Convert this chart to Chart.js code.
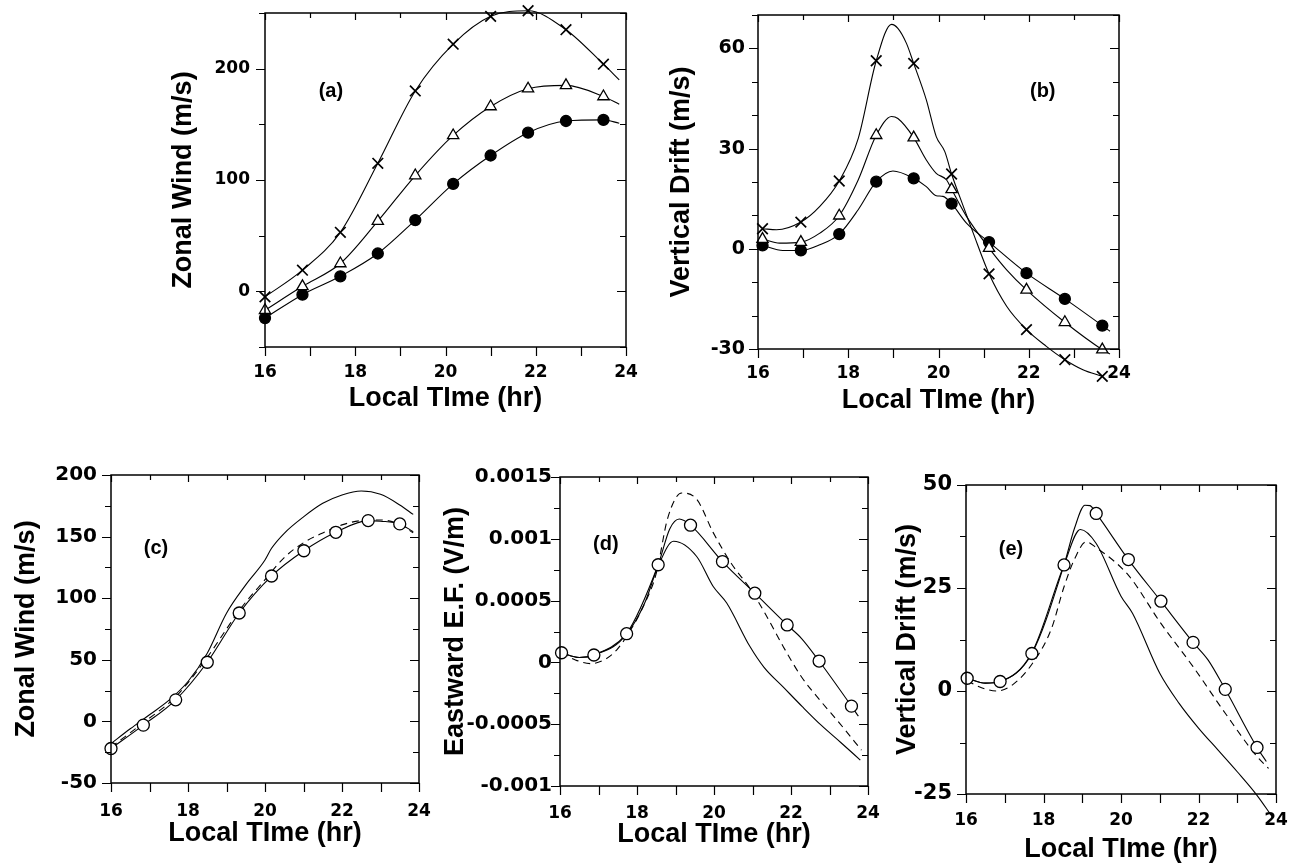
<!DOCTYPE html>
<html><head><meta charset="utf-8">
<script src="https://cdn.jsdelivr.net/npm/chart.js@4.4.1/dist/chart.umd.min.js"></script>
<style>
html,body{margin:0;padding:0;background:#fff;}
body{width:1296px;height:865px;overflow:hidden;position:relative;}
canvas{position:absolute;}
</style></head><body>
<canvas id="pa"></canvas><canvas id="pb"></canvas><canvas id="pc"></canvas><canvas id="pd"></canvas><canvas id="pe"></canvas>
<script>
const FONT = "'Liberation Sans', Arial, Helvetica, sans-serif";
const TICKFONT = "'DejaVu Sans', sans-serif";

// ---- shared x axis ----
const xTickLabels = ['16', '18', '20', '22', '24'];

// ---- panel (a): Zonal Wind ----
const aX = [16.0, 16.83, 17.67, 18.5, 19.33, 20.17, 21.0, 21.83, 22.67, 23.5];
const aCross = [-5, 19, 53, 115, 180, 222, 247, 252, 235, 204];
const aTriangle = [-17, 4.5, 25, 63, 104, 140, 166, 182, 185, 175];
const aDot = [-24, -3, 13.5, 34, 64, 96.5, 122, 142.5, 153, 154];
const aCurveX = [16.0, 16.83, 17.67, 18.5, 19.33, 20.17, 21.0, 21.83, 22.67, 23.5, 23.85];
const aCrossCurve = [-5, 19, 53, 115, 180, 222, 247, 252, 235, 204, 190];
const aTriangleCurve = [-17, 4.5, 25, 63, 104, 140, 166, 182, 185, 175, 168];
const aDotCurve = [-24, -3, 13.5, 34, 64, 96.5, 122, 142.5, 153, 154, 151];
const aYLabels = ['0', '100', '200'];

// ---- panel (b): Vertical Drift ----
const bX = [16.1, 16.95, 17.8, 18.62, 19.45, 20.29, 21.12, 21.95, 22.8, 23.63];
const bCross = [6, 8, 20.3, 56.3, 55.5, 22.4, -7.5, -24.2, -33.2, -38.2];
const bTriangle = [2.9, 2, 9.9, 34, 33.3, 17.8, 0.2, -12.3, -22, -30.2];
const bDot = [1, -0.5, 4.4, 20.1, 21.1, 13.5, 2, -7.3, -15, -23];
const bCrossCurveX = [16.11, 16.41, 16.95, 17.37, 17.8, 18.22, 18.62, 18.96, 19.1, 19.29, 19.45, 19.73, 19.95, 20.14, 20.29, 20.55, 20.77, 21.12, 21.51, 21.95, 22.39, 22.8, 23.2, 23.63];
const bCrossCurve = [6, 5.7, 8, 12.7, 20.3, 33, 56.3, 67.2, 66, 61.5, 55.5, 44.6, 33.6, 29.1, 22.4, 12.7, 4.7, -7.5, -17.2, -24.2, -29.2, -33.2, -36.2, -38.2];
const bTriangleCurveX = [16.11, 16.48, 16.95, 17.37, 17.8, 18.22, 18.62, 18.96, 19.1, 19.45, 19.73, 19.95, 20.18, 20.29, 20.62, 21.12, 21.51, 21.95, 22.8, 23.63, 23.8];
const bTriangleCurve = [2.9, 1.7, 2, 4.7, 9.9, 20.6, 34, 39.6, 39, 33.3, 26.6, 22.6, 20.6, 17.8, 9.7, 0.2, -6.3, -12.3, -22, -30.2, -31.5];
const bDotCurveX = [16.11, 16.55, 16.95, 17.37, 17.8, 18.22, 18.62, 18.99, 19.45, 19.73, 19.95, 20.1, 20.29, 20.62, 21.12, 21.95, 22.8, 23.63, 23.8];
const bDotCurve = [1, -0.5, -0.5, 1.2, 4.4, 11.7, 20.1, 23.3, 21.1, 18.6, 15.9, 15.7, 13.5, 7.7, 2, -7.3, -15, -23, -24.7];
const bYLabels = ['-30', '0', '30', '60'];

// ---- panel (c): Zonal Wind ----
const cX = [16.0, 16.84, 17.68, 18.5, 19.33, 20.17, 21.01, 21.84, 22.68, 23.5];
const cCircle = [-22, -3, 17.5, 48, 88, 118, 138.5, 153.5, 163, 160.3];
const cCircleCurveX = [16.0, 16.84, 17.68, 18.5, 19.33, 20.17, 21.01, 21.84, 22.68, 23.0, 23.5, 23.85];
const cCircleCurve = [-22, -3, 17.5, 48, 88, 118, 138.5, 153.5, 163, 162.5, 160.3, 154];
const cDashX = [16.0, 16.84, 17.68, 18.5, 19.0, 19.33, 20.0, 20.5, 21.0, 21.5, 22.0, 22.5, 23.0, 23.5, 23.85];
const cDash = [-21, -1, 20, 52, 75, 90, 115, 133, 145, 153, 159.5, 163, 163.5, 160, 153];
const cUpperX = [16.0, 16.5, 17.0, 17.5, 18.0, 18.5, 19.0, 19.5, 20.0, 20.17, 20.5, 21.0, 21.5, 22.0, 22.5, 23.0, 23.5, 23.85];
const cUpper = [-18, -6, 5.4, 17, 32.4, 55.4, 87.8, 110.8, 131, 140.5, 152.7, 166, 177, 183.8, 187, 184.3, 175.7, 168];
const cYLabels = ['-50', '0', '50', '100', '150', '200'];

// ---- panel (d): Eastward E.F. ----
const dX = [16.04, 16.88, 17.73, 18.55, 19.39, 20.22, 21.06, 21.9, 22.73, 23.57];
const dCircle = [0.000078, 0.00006, 0.000232, 0.00079, 0.00111, 0.000816, 0.00056, 0.000303, 0.000011, -0.000354];
const dCircleCurveX = [16.04, 16.5, 16.88, 17.73, 18.55, 18.85, 19.1, 19.39, 20.22, 21.06, 21.9, 22.27, 22.73, 23.57, 23.75];
const dCircleCurve = [0.000078, 0.00004, 0.00006, 0.000232, 0.00079, 0.00108, 0.00116, 0.00111, 0.000816, 0.00056, 0.000303, 0.000195, 0.000011, -0.000354, -0.000435];
const dDashX = [16.04, 16.4, 16.8, 17.2, 17.47, 17.73, 18.16, 18.5, 18.8, 19.16, 19.55, 19.98, 20.45, 20.93, 21.32, 21.8, 22.27, 22.75, 23.27, 23.83];
const dDash = [0.00008, 0.00002, -0.00001, 0.00003, 0.0001, 0.00021, 0.00045, 0.00072, 0.00117, 0.00137, 0.00132, 0.00105, 0.0008, 0.0006, 0.0004, 0.000127, -0.000116, -0.000305, -0.000495, -0.00071];
const dLowerX = [16.04, 16.5, 16.88, 17.73, 18.2, 18.55, 18.95, 19.55, 19.98, 20.33, 20.93, 21.3, 21.8, 22.3, 22.79, 23.3, 23.8];
const dLower = [0.000078, 0.00004, 0.00006, 0.00023, 0.00048, 0.00078, 0.00098, 0.000857, 0.000614, 0.00048, 0.00013, -0.00004, -0.0002, -0.00036, -0.00051, -0.00065, -0.00079];
const dYLabels = ['-0.001', '-0.0005', '0', '0.0005', '0.001', '0.0015'];

// ---- panel (e): Vertical Drift ----
const eX = [16.03, 16.88, 17.7, 18.53, 19.36, 20.19, 21.03, 21.86, 22.69, 23.51];
const eCircle = [3.1, 2.3, 9.1, 30.6, 43.1, 31.9, 21.8, 11.8, 0.4, -13.7];
const eCircleCurveX = [16.03, 16.5, 16.88, 17.7, 18.53, 18.8, 19.07, 19.2, 19.36, 20.19, 21.03, 21.86, 22.25, 22.69, 23.51, 23.75];
const eCircleCurve = [3.1, 1.9, 2.3, 9.1, 30.6, 39.5, 45.1, 45, 43.1, 31.9, 21.8, 11.8, 7.5, 0.4, -13.7, -17.1];
const eLowerX = [16.03, 16.5, 16.88, 17.7, 18.53, 18.95, 19.36, 20.0, 20.3, 21.0, 21.5, 22.0, 22.5, 23.0, 23.5, 23.9];
const eLower = [3.1, 1.9, 2.3, 9.3, 30.6, 39.2, 35.8, 23, 18.8, 4.3, -3, -9, -14.3, -19.6, -25.2, -30.5];
const eDashX = [16.03, 16.4, 16.8, 17.2, 17.7, 18.2, 18.53, 18.8, 19.1, 19.36, 20.19, 21.03, 21.86, 22.69, 23.51, 23.81];
const eDash = [2.5, 0.8, 0, 1.5, 6.5, 15, 25.3, 32, 36.2, 34.8, 28.1, 16.4, 5.9, -5.4, -15.9, -18.8];
const eYLabels = ['-25', '0', '25', '50'];

// ---- helpers ----
const pts = (xs, ys) => xs.map((x, i) => ({x: x, y: ys[i]}));
function curve(xs, ys, dashed) {
  return {data: pts(xs, ys), borderColor: '#000', borderWidth: 1.1, pointRadius: 0, pointHitRadius: 0,
    cubicInterpolationMode: 'monotone', borderDash: dashed ? [7, 5] : [], fill: false, clip: false};
}
function marks(xs, ys, style, filled, r) {
  return {data: pts(xs, ys), showLine: false, pointStyle: style, pointRadius: r,
    pointBackgroundColor: filled ? '#000' : '#fff', pointBorderColor: '#000',
    pointBorderWidth: style === 'crossRot' ? 1.7 : 1.3, clip: false};
}
function labelFor(list) {
  return v => { const hit = list.find(s => Math.abs(parseFloat(s) - v) < 1e-9); return hit === undefined ? '' : hit; };
}

const framePlugin = {
  id: 'frame',
  afterDatasetsDraw(chart) {
    // markers that fall outside the plot frame (the library skips them by default)
    const a = chart.chartArea;
    const big = {left: -1e4, top: -1e4, right: 1e4, bottom: 1e4};
    chart.data.datasets.forEach((ds, i) => {
      if (ds.showLine !== false) return;
      chart.getDatasetMeta(i).data.forEach(el => {
        if (el.y > a.bottom + 5 || el.y < a.top - 5 || el.x < a.left - 5 || el.x > a.right + 5) el.draw(chart.ctx, big);
      });
    });
  },
  afterDraw(chart) {
    const {ctx, chartArea: {left, right, top, bottom}, scales: {x, y}} = chart;
    const o = chart.options.plugins.frame;
    ctx.save();
    ctx.strokeStyle = '#000';
    ctx.lineWidth = 1.2;
    ctx.beginPath();
    x.ticks.forEach(t => {
      const p = Math.round(x.getPixelForValue(t.value)) + 0.5;
      const major = t.label !== '';
      ctx.moveTo(p, bottom); ctx.lineTo(p, bottom + 9);
      ctx.moveTo(p, top); ctx.lineTo(p, top + (major ? 7 : 5));
    });
    y.ticks.forEach(t => {
      const p = Math.round(y.getPixelForValue(t.value)) + 0.5;
      const major = t.label !== '';
      ctx.moveTo(left - (major ? 9 : 6), p); ctx.lineTo(left, p);
      ctx.moveTo(right - (major ? 9 : 6), p); ctx.lineTo(right, p);
    });
    ctx.stroke();
    ctx.lineWidth = 1.5;
    ctx.strokeRect(left, top, right - left, bottom - top);
    ctx.fillStyle = '#000';
    ctx.font = 'bold 20px ' + FONT;
    ctx.textAlign = 'center';
    ctx.textBaseline = 'middle';
    ctx.fillText(o.label, x.getPixelForValue(o.lx), y.getPixelForValue(o.ly));
    ctx.restore();
  }
};

function makeChart(id, p) {
  const padT = 34, padR = 40;
  const W = p.yw, H = p.xh;
  const cv = document.getElementById(id);
  cv.width = W + (p.R - p.L) + padR;
  cv.height = padT + (p.B - p.T) + H;
  cv.style.left = (p.L - W) + 'px';
  cv.style.top = (p.T - padT) + 'px';
  const titleFont = {family: FONT, size: 27, weight: 'bold'};
  new Chart(cv, {
    type: 'line',
    data: {datasets: p.datasets},
    options: {
      responsive: false, animation: false, devicePixelRatio: 1, events: [],
      layout: {padding: {left: 0, top: padT, right: padR, bottom: 0}},
      plugins: {legend: {display: false}, tooltip: {enabled: false},
        frame: {label: p.label, lx: p.lx, ly: p.ly}},
      scales: {
        x: {type: 'linear', min: 16, max: 24,
          ticks: {stepSize: 1, maxTicksLimit: 50, autoSkip: false, maxRotation: 0, minRotation: 0,
            padding: p.xpad, color: '#000', font: {family: TICKFONT, size: 17, weight: 'bold'},
            callback: labelFor(xTickLabels)},
          grid: {display: false, drawTicks: false}, border: {display: false},
          title: {display: true, text: 'Local TIme (hr)', color: '#000', font: titleFont, padding: 0},
          afterFit: s => { s.height = H; }},
        y: {type: 'linear', min: p.ymin, max: p.ymax,
          ticks: {stepSize: p.ystep, maxTicksLimit: 50, autoSkip: false, padding: p.ypad,
            color: '#000', font: {family: TICKFONT, size: p.yfs, weight: 'bold'}, callback: labelFor(p.ylabels)},
          grid: {display: false, drawTicks: false}, border: {display: false},
          title: {display: true, text: p.ytitle, color: '#000', font: titleFont, padding: 0},
          afterFit: s => { s.width = W; }}
      }
    },
    plugins: [framePlugin]
  });
}

makeChart('pa', {L: 265, R: 626, T: 13, B: 347, yw: 98, xh: 68, xpad: 15, ypad: 15, yfs: 17,
  ymin: -50, ymax: 250, ystep: 50, ylabels: aYLabels, ytitle: 'Zonal Wind (m/s)',
  label: '(a)', lx: 17.46, ly: 179.5,
  datasets: [
    marks(aX, aCross, 'crossRot', false, 7.5),
    marks(aX, aTriangle, 'triangle', false, 6.5),
    marks(aX, aDot, 'circle', true, 5.5),
    curve(aCurveX, aCrossCurve), curve(aCurveX, aTriangleCurve), curve(aCurveX, aDotCurve)
  ]});

makeChart('pb', {L: 758, R: 1119, T: 15, B: 349, yw: 93, xh: 68, xpad: 14, ypad: 13, yfs: 19,
  ymin: -30, ymax: 70, ystep: 10, ylabels: bYLabels, ytitle: 'Vertical Drift (m/s)',
  label: '(b)', lx: 22.31, ly: 47.2,
  datasets: [
    marks(bX, bCross, 'crossRot', false, 7.5),
    marks(bX, bTriangle, 'triangle', false, 6.5),
    marks(bX, bDot, 'circle', true, 5.5),
    curve(bCrossCurveX, bCrossCurve), curve(bTriangleCurveX, bTriangleCurve), curve(bDotCurveX, bDotCurve)
  ]});

makeChart('pc', {L: 111, R: 419, T: 475, B: 783, yw: 101, xh: 67, xpad: 18, ypad: 14, yfs: 20,
  ymin: -50, ymax: 200, ystep: 25, ylabels: cYLabels, ytitle: 'Zonal Wind (m/s)',
  label: '(c)', lx: 17.17, ly: 140,
  datasets: [
    marks(cX, cCircle, 'circle', false, 6),
    curve(cCircleCurveX, cCircleCurve), curve(cDashX, cDash, true), curve(cUpperX, cUpper)
  ]});

makeChart('pd', {L: 560, R: 868, T: 477, B: 786, yw: 121, xh: 65, xpad: 17, ypad: 8, yfs: 20,
  ymin: -0.001, ymax: 0.0015, ystep: 0.00025, ylabels: dYLabels, ytitle: 'Eastward E.F. (V/m)',
  label: '(d)', lx: 17.19, ly: 0.000951,
  datasets: [
    marks(dX, dCircle, 'circle', false, 6),
    curve(dCircleCurveX, dCircleCurve), curve(dDashX, dDash, true), curve(dLowerX, dLower)
  ]});

makeChart('pe', {L: 966, R: 1276, T: 485, B: 794, yw: 75, xh: 72, xpad: 16, ypad: 14, yfs: 21,
  ymin: -25, ymax: 50, ystep: 12.5, ylabels: eYLabels, ytitle: 'Vertical Drift (m/s)',
  label: '(e)', lx: 17.16, ly: 34.4,
  datasets: [
    marks(eX, eCircle, 'circle', false, 6),
    curve(eCircleCurveX, eCircleCurve), curve(eDashX, eDash, true), curve(eLowerX, eLower)
  ]});
</script>
</body></html>
